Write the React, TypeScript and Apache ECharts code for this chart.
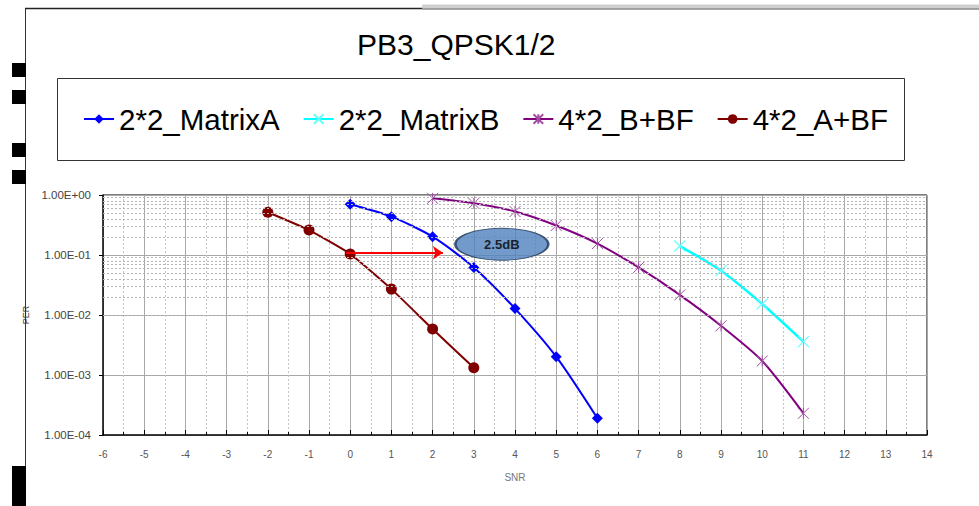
import React, { useEffect, useRef } from "react";
import * as echarts from "echarts";

const snr = [-2, -1, 0, 1, 2, 3, 4, 5, 6, 7, 8, 9, 10, 11];
const matrixA_x = [0, 1, 2, 3, 4, 5, 6];
const matrixA_y = [0.7, 0.435, 0.202, 0.062, 0.0128, 0.00202, 0.00019];
const matrixB_x = [8, 9, 10, 11];
const matrixB_y = [0.141, 0.0548, 0.0153, 0.0036];
const bbf_x = [2, 3, 4, 5, 6, 7, 8, 9, 10, 11];
const bbf_y = [0.88, 0.726, 0.53, 0.31, 0.155, 0.062, 0.0216, 0.0066, 0.00171, 0.00023];
const abf_x = [-2, -1, 0, 1, 2, 3];
const abf_y = [0.515, 0.26, 0.104, 0.027, 0.00585, 0.00132];
const seriesNames = ["2*2_MatrixA", "2*2_MatrixB", "4*2_B+BF", "4*2_A+BF"];
const decades = [1e-4, 1e-3, 1e-2, 1e-1];
const minorMultipliers = [2, 3, 4, 5, 6, 7, 8, 9];
const arrowFrom = [-0.1, 0.109];
const arrowTo = [2.25, 0.109];
const noteAt = [3.68, 0.151];
const noteText = "2.5dB";

const FONT = "Liberation Sans, Arial, sans-serif";
const xMark = "path://M0,0L10,10M10,0L0,10";
const starMark = "path://M0,0L10,10M10,0L0,10M5,0L5,10";

function zip(xs: number[], ys: number[]) {
  return xs.map((x, i) => [x, ys[i]]);
}

function fmt(v: number) {
  const e = Math.round(Math.log10(v));
  const s = e < 0 ? "-" : "+";
  return "1.00E" + s + String(Math.abs(e)).padStart(2, "0");
}

export default function App() {
  const ref = useRef<HTMLDivElement>(null);
  useEffect(() => {
    if (!ref.current) return;
    const chart = echarts.init(ref.current, undefined, { renderer: "svg" });
    const minorLines: any[] = [];
    decades.forEach((d) => minorMultipliers.forEach((m) => minorLines.push({ yAxis: d * m })));
    const option: any = {
      animation: false,
      backgroundColor: "#fff",
      title: {
        text: "PB3_QPSK1/2",
        left: 357,
        top: 29,
        padding: 0,
        textStyle: { fontFamily: FONT, fontSize: 30, fontWeight: "normal", color: "#000" },
      },
      legend: {
        data: seriesNames,
        left: 83,
        top: 104,
        padding: 0,
        itemWidth: 30,
        itemHeight: 12,
        itemGap: 23,
        textStyle: { fontFamily: FONT, fontSize: 29.5, color: "#000", lineHeight: 30 },
      },
      grid: { left: 103, right: 52, top: 195, bottom: 71, containLabel: false },
      xAxis: {
        type: "value",
        min: -6,
        max: 14,
        interval: 1,
        name: "SNR",
        nameLocation: "middle",
        nameGap: 37,
        nameTextStyle: { fontFamily: FONT, fontSize: 10, color: "#777" },
        axisLine: { onZero: false, lineStyle: { color: "#000", width: 1.5 } },
        axisTick: { inside: true, length: 5, lineStyle: { color: "#000" } },
        minorTick: { show: true, splitNumber: 2, length: 3, lineStyle: { color: "#000" } },
        axisLabel: { fontFamily: FONT, fontSize: 10, color: "#555", margin: 14 },
        splitLine: { show: true, lineStyle: { color: "#a8a8a8", width: 1 } },
        minorSplitLine: { show: true, lineStyle: { color: "#c4c4c4", type: [2, 2], width: 1 } },
      },
      yAxis: {
        type: "log",
        logBase: 10,
        min: 1e-4,
        max: 1,
        name: "PER",
        nameLocation: "middle",
        nameGap: 67,
        nameRotate: 90,
        nameTextStyle: { fontFamily: FONT, fontSize: 9, color: "#333" },
        axisLine: { show: true, onZero: false, lineStyle: { color: "#000", width: 1.5 } },
        axisTick: { show: true, inside: false, length: 4, lineStyle: { color: "#000" } },
        axisLabel: { fontFamily: FONT, fontSize: 11.5, color: "#444", margin: 12, formatter: fmt },
        splitLine: { show: true, lineStyle: { color: "#a8a8a8", width: 1 } },
      },
      series: [
        {
          name: "minor",
          type: "line",
          data: [],
          z: 1,
          silent: true,
          markLine: {
            silent: true,
            symbol: "none",
            label: { show: false },
            lineStyle: { color: "#b4b4b4", type: [2, 2], width: 1 },
            emphasis: { disabled: true },
            data: minorLines,
          },
        },
        {
          name: seriesNames[0],
          type: "line",
          data: zip(matrixA_x, matrixA_y),
          smooth: 0.25,
          symbol: "diamond",
          symbolSize: 11,
          lineStyle: { color: "#0000ff", width: 2 },
          itemStyle: { color: "#0000ff" },
        },
        {
          name: seriesNames[1],
          type: "line",
          data: zip(matrixB_x, matrixB_y),
          smooth: 0.25,
          symbol: xMark,
          symbolSize: 11,
          lineStyle: { color: "#00ffff", width: 2.5 },
          itemStyle: { color: "#00ffff", borderColor: "#66ffff", borderWidth: 1.2 },
        },
        {
          name: seriesNames[2],
          type: "line",
          data: zip(bbf_x, bbf_y),
          smooth: 0.25,
          symbol: starMark,
          symbolSize: 11,
          lineStyle: { color: "#800080", width: 2 },
          itemStyle: { color: "#800080", borderColor: "#a050a0", borderWidth: 1 },
        },
        {
          name: seriesNames[3],
          type: "line",
          data: zip(abf_x, abf_y),
          smooth: 0.15,
          symbol: "circle",
          symbolSize: 11,
          lineStyle: { color: "#800000", width: 2 },
          itemStyle: { color: "#800000" },
          markLine: {
            silent: true,
            symbol: ["none", "arrow"],
            symbolSize: 10,
            label: { show: false },
            lineStyle: { color: "#ff0000", width: 2, type: "solid" },
            itemStyle: { color: "#ff0000" },
            data: [[{ coord: arrowFrom }, { coord: arrowTo }]],
          },
        },
        {
          name: "note",
          type: "scatter",
          data: [noteAt],
          symbol: "circle",
          symbolSize: [93, 32],
          z: 5,
          silent: true,
          itemStyle: { color: "#4f81bd", borderColor: "#1c3557", borderWidth: 1.5 },
          label: {
            show: true,
            position: "inside",
            formatter: noteText,
            fontFamily: FONT,
            fontSize: 13,
            fontWeight: "bold",
            color: "#000",
          },
        },
      ],
      graphic: [
        { type: "rect", shape: { x: 57.5, y: 78.5, width: 847, height: 82 }, style: { fill: "none", stroke: "#333", lineWidth: 1 }, silent: true },
        { type: "line", shape: { x1: 25.5, y1: 8, x2: 25.5, y2: 506 }, style: { stroke: "#333", lineWidth: 1 } },
        { type: "line", shape: { x1: 25, y1: 8.5, x2: 422, y2: 8.5 }, style: { stroke: "#222", lineWidth: 1.5 } },
        { type: "rect", shape: { x: 422, y: 4.5, width: 557, height: 4 }, style: { fill: "#cfcfcf" } },
        { type: "line", shape: { x1: 422, y1: 9, x2: 979, y2: 9 }, style: { stroke: "#555", lineWidth: 1 } },
        { type: "rect", shape: { x: 12, y: 63, width: 14, height: 14 }, style: { fill: "#000" } },
        { type: "rect", shape: { x: 12, y: 90, width: 14, height: 14 }, style: { fill: "#000" } },
        { type: "rect", shape: { x: 12, y: 143, width: 14, height: 14 }, style: { fill: "#000" } },
        { type: "rect", shape: { x: 12, y: 170, width: 14, height: 14 }, style: { fill: "#000" } },
        { type: "rect", shape: { x: 12, y: 466, width: 14, height: 40 }, style: { fill: "#000" } },
        { type: "line", shape: { x1: 103, y1: 195, x2: 927, y2: 195 }, style: { stroke: "#808080", lineWidth: 2 } },
        { type: "line", shape: { x1: 927, y1: 195, x2: 927, y2: 435 }, style: { stroke: "#808080", lineWidth: 2 } },
      ],
    };
    chart.setOption(option);
    return () => chart.dispose();
  }, []);
  return (
    <div
      ref={ref}
      style={{ position: "fixed", left: 0, top: 0, width: 979, height: 506 }}
    />
  );
}
